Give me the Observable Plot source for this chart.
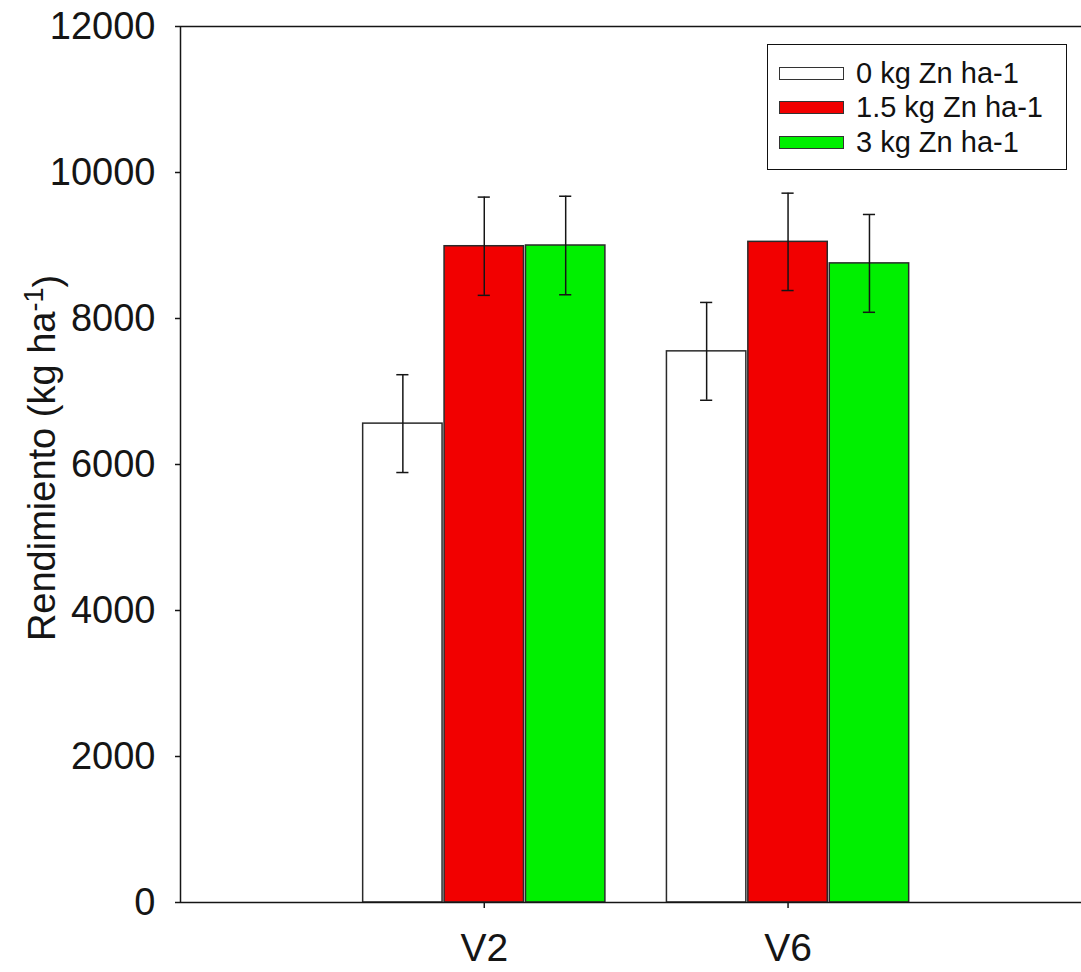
<!DOCTYPE html>
<html><head><meta charset="utf-8">
<script src="https://cdn.jsdelivr.net/npm/d3@7"></script>
<script src="https://cdn.jsdelivr.net/npm/@observablehq/plot@0.6"></script>
<style>
body{margin:0;background:#fff;font-family:"Liberation Sans",Arial,sans-serif;}
#wrap{position:relative;width:1081px;height:972px;}
#legend{position:absolute;left:767px;top:44px;width:300px;height:126px;border:1.5px solid #111;background:#fff;box-sizing:border-box;}
.row{position:absolute;left:11px;display:flex;align-items:center;height:34px;}
.sw{width:63px;height:11px;border:1.5px solid #333;margin-right:12px;box-sizing:content-box;}
.lab{font-size:29px;color:#111;white-space:nowrap;}
</style></head><body><div id="wrap"><div id="legend"></div></div>
<script>
const groups = ["V2", "V6"];
const series = ["0 kg Zn ha-1", "1.5 kg Zn ha-1", "3 kg Zn ha-1"];
const seriesColors = ["#ffffff", "#f20000", "#00f000"];
const meansV2 = [6560, 8990, 9000];
const errV2 = [670, 673, 675];
const meansV6 = [7550, 9050, 8755];
const errV6 = [670, 667, 670];
const yTicks = [0, 2000, 4000, 6000, 8000, 10000, 12000];
const yLabelMain = "Rendimiento (kg ha";
const yLabelSup = "-1";
const yLabelEnd = ")";

const means = [meansV2, meansV6];
const errs = [errV2, errV6];
const rows = [];
groups.forEach((g, gi) => series.forEach((s, si) => rows.push({
  group: g, pos: gi + 1, si, series: s, mean: means[gi][si], err: errs[gi][si]
})));

const barStep = 0.268;
const cap = 0.02;
const left = d => d.pos + (d.si - 1.5) * barStep;
const center = d => d.pos + (d.si - 1) * barStep;
const ink = "#151515";

const plot = Plot.plot({
  width: 1081,
  height: 972,
  marginTop: 26,
  marginBottom: 70,
  marginLeft: 180,
  marginRight: 0,
  style: {fontFamily: '"Liberation Sans", Arial, sans-serif', color: ink, background: "#fff"},
  x: {type: "linear", domain: [0, 2.966]},
  y: {domain: [0, 12000]},
  color: {domain: series, range: seriesColors},
  marks: [
    Plot.rectY(rows, {x1: left, x2: d => left(d) + barStep, y1: 0, y2: "mean", fill: "series",
      stroke: "#2a2a2a", strokeWidth: 1.5, insetLeft: 1, insetRight: 1}),
    Plot.ruleX(rows, {x: center, y1: d => d.mean - d.err, y2: d => d.mean + d.err, stroke: ink, strokeWidth: 1.5}),
    Plot.ruleY(rows, {y: d => d.mean + d.err, x1: d => center(d) - cap, x2: d => center(d) + cap, stroke: ink, strokeWidth: 1.5}),
    Plot.ruleY(rows, {y: d => d.mean - d.err, x1: d => center(d) - cap, x2: d => center(d) + cap, stroke: ink, strokeWidth: 1.5}),
    Plot.ruleY([0, 12000], {stroke: ink, strokeWidth: 1.5}),
    Plot.ruleX([0], {stroke: ink, strokeWidth: 1.5}),
    Plot.axisY({ticks: yTicks, tickFormat: d => String(d), tickSize: 5, tickPadding: 20, fontSize: 38, label: null, strokeWidth: 1.5}),
    Plot.axisX({ticks: [1, 2], tickFormat: i => groups[i - 1], tickSize: 6, tickPadding: 25, fontSize: 39, label: null, strokeWidth: 1.5})
  ]
});

const ys = plot.scale("y");
const cy = (ys.range[0] + ys.range[1]) / 2 - 6;
const t = d3.select(plot).append("text")
  .attr("transform", `translate(55,${cy}) rotate(-90)`)
  .attr("text-anchor", "middle")
  .attr("font-size", 38)
  .attr("fill", ink);
t.append("tspan").text(yLabelMain);
t.append("tspan").attr("dy", "-0.45em").attr("font-size", 27).text(yLabelSup);
t.append("tspan").attr("dy", "0.45em").text(yLabelEnd);

document.getElementById("wrap").prepend(plot);

const legend = document.getElementById("legend");
series.forEach((s, i) => {
  const row = document.createElement("div");
  row.className = "row";
  row.style.top = (11 + i * 34.5) + "px";
  const sw = document.createElement("div");
  sw.className = "sw";
  sw.style.background = seriesColors[i];
  const lab = document.createElement("span");
  lab.className = "lab";
  lab.textContent = s;
  row.append(sw, lab);
  legend.append(row);
});
</script></body></html>
